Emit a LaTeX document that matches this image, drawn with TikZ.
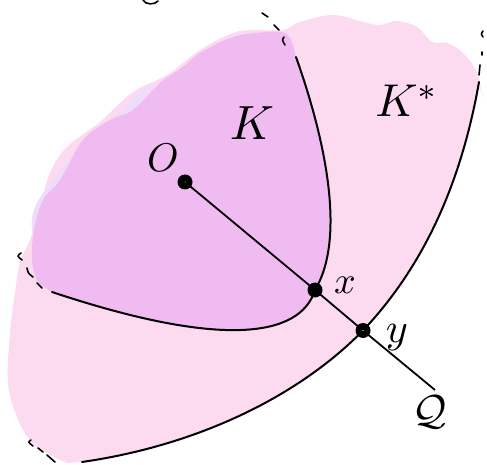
\documentclass[tikz,border=0pt]{standalone}
\definecolor{pinkfill}{RGB}{252,218,240}
\definecolor{purplefill}{RGB}{240,187,241}
\definecolor{lavfill}{RGB}{237,221,251}
\tikzset{
  curve/.style={line width=2pt, line cap=round},
  dashbit/.style={line width=1.6pt, line cap=round},
  dotnode/.style={circle, fill=black, inner sep=0pt, minimum size=15pt},
  lab/.style={inner sep=0pt, text=black}
}
\begin{document}
\begin{tikzpicture}[x=1pt,y=-1pt]
\useasboundingbox (0,0) rectangle (487,465);
% pink region K*
\fill[pinkfill] (80,462) .. controls (200,445) and (300,395) .. (363,330.5)
  .. controls (420,270) and (460,190) .. (479,82)
  -- plot[smooth, tension=0.6] coordinates {(483,100) (477,73) (463,53) (447,43) (432,42) (417,27) (397,21) (380,25) (363,22) (333,15) (300,22) (283,30) (255,30) (233,33) (200,50) (167,75) (133,92) (100,122) (67,147) (50,173) (40,207) (30,240) (20,262) (15,293) (10,333) (8,383) (17,417) (30,440) (47,453) (67,463)}
  -- cycle;
% lavender tint
\fill[lavfill] plot[smooth cycle, tension=0.6] coordinates {(120,112) (140,92) (160,86) (175,95) (150,120) (110,140) (60,190) (45,240) (33,235) (36,205) (70,160)};
% purple region K
\fill[purplefill] (52,292) .. controls (220,348) and (300,338) .. (315,290)
  .. controls (348,235) and (322,130) .. (296,57)
  -- plot[smooth, tension=0.6] coordinates {(292,42) (285,33) (267,32) (233,37) (200,53) (183,67) (160,83) (133,110) (110,120) (83,140) (60,180) (43,200) (34,230) (32,262) (38,283)}
  -- cycle;
% named points
\node[dotnode] (O) at (185,182) {};
\node[dotnode] (X) at (315,290) {};
\node[dotnode] (Y) at (363,330.5) {};
\coordinate (Qend) at (435,390);
\coordinate (Ktop) at (296,57);
\coordinate (Kleft) at (52,292);
\coordinate (Stop) at (479,82);
\coordinate (Sbot) at (82,462);
% boundary of K
\draw[curve] (Kleft) .. controls (220,348) and (300,338) .. (X.center)
  .. controls (348,235) and (322,130) .. (Ktop);
% boundary of K*
\draw[curve] (Sbot) .. controls (200,445) and (300,395) .. (Y.center)
  .. controls (420,270) and (460,190) .. (Stop);
% ray
\draw[line width=1.8pt] (O.center) -- (X.center) -- (Y.center) -- (Qend);
\fill[white] (Y.center) circle (0.7pt);
\fill[white] (O.center) circle (0.5pt);
% dashed continuations
\draw[dashbit] (262,13) -- (268,17);
\draw[dashbit] (274,25) -- (279,30);
\draw[dashbit] (284,37) .. controls (282,40) .. (285,45);
\draw[dashbit] (21,253) .. controls (17,256) .. (22,260);
\draw[dashbit] (27,268) .. controls (28,273) .. (33,277);
\draw[dashbit] (37,283) -- (42,288);
\draw[dashbit] (483,31) .. controls (481,34) .. (483,37);
\draw[dashbit] (482,52) -- (482,55);
\draw[dashbit] (480,65) -- (479,75);
\draw[dashbit] (31,440) .. controls (28,442) .. (33,446);
\draw[dashbit] (38,448) -- (43,452);
\draw[dashbit] (47,455) -- (55,462);
\draw[dashbit] (143,0) .. controls (145,5) and (155,5) .. (158,1);
% labels
\node[lab, scale=4.0] (Olab) at (163,158) {$O$};
\node[lab, scale=4.8] (Klab) at (252,123) {$K$};
\node[lab, scale=4.6] (KSlab) at (407,101) {$K^{*}$};
\node[lab, scale=3.8] (xlab) at (345,285) {$x$};
\node[lab, scale=4.2] (ylab) at (397,338) {$y$};
\node[lab, scale=4.2] (Qlab) at (430,412) {$\mathcal{Q}$};
\end{tikzpicture}
\end{document}
